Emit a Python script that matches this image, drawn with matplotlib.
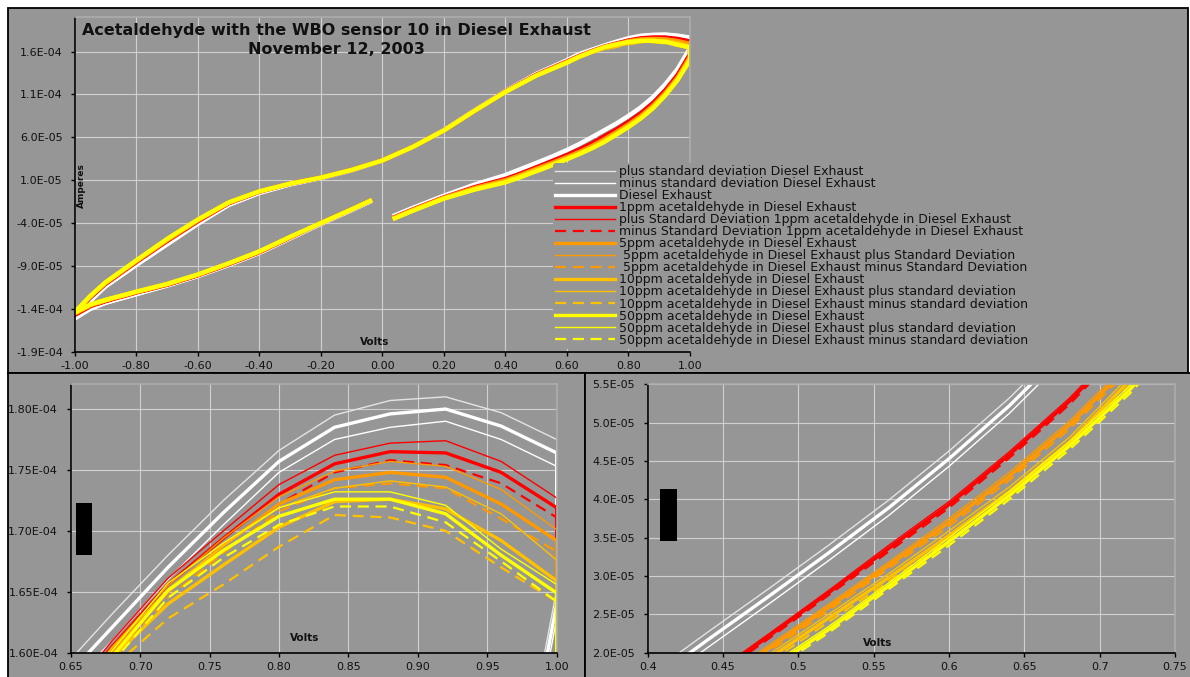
import numpy as np
import matplotlib.pyplot as plt
from matplotlib.patches import Rectangle

plt.rcParams['font.family'] = ['DejaVu Sans']

nan = np.nan
UNIT = 1e-4   # all currents below are in units of 1E-04 A

# voltage sweep: forward -1 -> 1, then back 1 -> -1 (blank cell at 0.00)
volts_fwd = [-1.00, -0.95, -0.90, -0.80, -0.70, -0.60, -0.50, -0.40, -0.30, -0.20,
             -0.10, 0.00, 0.10, 0.20, 0.30, 0.40, 0.50, 0.60, 0.64, 0.68,
             0.72, 0.76, 0.80, 0.84, 0.88, 0.92, 0.96, 1.00]
volts_rev = [1.00, 0.96, 0.92, 0.88, 0.84, 0.80, 0.76, 0.72, 0.68, 0.64,
             0.60, 0.56, 0.52, 0.48, 0.44, 0.40, 0.30, 0.20, 0.10, 0.04,
             0.00, -0.04, -0.10, -0.20, -0.30, -0.40, -0.50, -0.60, -0.70, -0.80,
             -0.90, -0.95, -1.00]

# Diesel Exhaust
de_fwd = [-1.51, -1.31, -1.14, -0.89, -0.65, -0.41, -0.19, -0.05, 0.05, 0.125,
          0.215, 0.33, 0.49, 0.685, 0.915, 1.14, 1.34, 1.50, 1.572, 1.621,
          1.670, 1.715, 1.757, 1.785, 1.796, 1.800, 1.786, 1.764]
de_rev = [1.64, 1.40, 1.22, 1.07, 0.95, 0.85, 0.76, 0.68, 0.60, 0.522,
          0.453, 0.389, 0.330, 0.273, 0.217, 0.160, 0.050, -0.080, -0.220, -0.310,
          nan, -0.150, -0.250, -0.410, -0.580, -0.750, -0.890, -1.020, -1.130, -1.230,
          -1.330, -1.400, -1.510]
de_sd_fwd = [0.020, 0.015, 0.012, 0.010, 0.010, 0.008, 0.006, 0.005, 0.005, 0.005,
             0.005, 0.005, 0.006, 0.007, 0.008, 0.009, 0.010, 0.010, 0.010, 0.011,
             0.010, 0.010, 0.009, 0.010, 0.011, 0.010, 0.011, 0.011]
de_sd_rev = [0.012, 0.012, 0.011, 0.011, 0.011, 0.011, 0.011, 0.010, 0.010, 0.010,
             0.010, 0.010, 0.010, 0.010, 0.010, 0.010, 0.008, 0.006, 0.005, 0.005,
             nan, 0.005, 0.005, 0.006, 0.006, 0.007, 0.008, 0.009, 0.010, 0.012,
             0.015, 0.018, 0.020]

# 1ppm acetaldehyde
p1_fwd = [-1.47, -1.27, -1.11, -0.855, -0.61, -0.38, -0.17, -0.035, 0.06, 0.13,
          0.22, 0.33, 0.49, 0.68, 0.91, 1.135, 1.33, 1.485, 1.550, 1.605,
          1.656, 1.694, 1.730, 1.755, 1.765, 1.764, 1.748, 1.719]
p1_rev = [1.57, 1.33, 1.15, 1.00, 0.88, 0.78, 0.69, 0.61, 0.528, 0.458,
          0.393, 0.336, 0.278, 0.221, 0.165, 0.115, 0.020, -0.100, -0.240, -0.330,
          nan, -0.140, -0.240, -0.400, -0.570, -0.740, -0.880, -1.010, -1.120, -1.210,
          -1.310, -1.370, -1.470]
p1_sd_fwd = [0.010, 0.008, 0.006, 0.005, 0.005, 0.004, 0.004, 0.003, 0.003, 0.003,
             0.003, 0.003, 0.003, 0.004, 0.004, 0.004, 0.004, 0.004, 0.004, 0.005,
             0.005, 0.006, 0.008, 0.007, 0.007, 0.010, 0.009, 0.008]
p1_sd_rev = [0.006, 0.005, 0.005, 0.004, 0.004, 0.004, 0.004, 0.004, 0.004, 0.004,
             0.004, 0.004, 0.003, 0.003, 0.003, 0.003, 0.003, 0.003, 0.003, 0.003,
             nan, 0.003, 0.003, 0.003, 0.004, 0.004, 0.005, 0.005, 0.006, 0.007,
             0.008, 0.009, 0.010]

# 5ppm acetaldehyde
p5_fwd = [-1.455, -1.26, -1.10, -0.845, -0.60, -0.37, -0.165, -0.03, 0.06, 0.13,
          0.22, 0.33, 0.49, 0.68, 0.91, 1.13, 1.325, 1.48, 1.545, 1.600,
          1.650, 1.688, 1.722, 1.742, 1.748, 1.744, 1.722, 1.692]
p5_rev = [1.54, 1.30, 1.12, 0.97, 0.85, 0.75, 0.66, 0.575, 0.497, 0.430,
          0.370, 0.314, 0.259, 0.205, 0.149, 0.100, 0.010, -0.105, -0.245, -0.335,
          nan, -0.140, -0.240, -0.400, -0.565, -0.735, -0.875, -1.005, -1.115, -1.205,
          -1.300, -1.360, -1.455]
p5_sd_fwd = [0.010, 0.008, 0.006, 0.005, 0.005, 0.004, 0.004, 0.003, 0.003, 0.003,
             0.003, 0.003, 0.003, 0.004, 0.004, 0.004, 0.004, 0.004, 0.004, 0.005,
             0.005, 0.006, 0.006, 0.007, 0.009, 0.009, 0.012, 0.009]
p5_sd_rev = [0.007, 0.006, 0.006, 0.005, 0.005, 0.005, 0.005, 0.005, 0.005, 0.005,
             0.005, 0.004, 0.004, 0.004, 0.004, 0.004, 0.003, 0.003, 0.003, 0.003,
             nan, 0.003, 0.003, 0.003, 0.004, 0.004, 0.005, 0.005, 0.006, 0.007,
             0.008, 0.009, 0.010]

# 10ppm acetaldehyde
p10_fwd = [-1.445, -1.255, -1.095, -0.84, -0.59, -0.36, -0.16, -0.03, 0.06, 0.13,
           0.22, 0.33, 0.49, 0.68, 0.91, 1.13, 1.32, 1.475, 1.540, 1.596,
           1.640, 1.672, 1.703, 1.724, 1.726, 1.718, 1.692, 1.659]
p10_rev = [1.52, 1.28, 1.10, 0.95, 0.83, 0.73, 0.64, 0.555, 0.475, 0.410,
           0.353, 0.298, 0.245, 0.192, 0.136, 0.085, 0.000, -0.110, -0.250, -0.340,
           nan, -0.140, -0.240, -0.400, -0.565, -0.730, -0.870, -1.000, -1.110, -1.200,
           -1.300, -1.355, -1.445]
p10_sd_fwd = [0.012, 0.010, 0.008, 0.006, 0.005, 0.005, 0.004, 0.004, 0.003, 0.003,
              0.003, 0.003, 0.004, 0.004, 0.005, 0.005, 0.005, 0.006, 0.006, 0.008,
              0.012, 0.016, 0.016, 0.011, 0.015, 0.018, 0.022, 0.017]
p10_sd_rev = [0.008, 0.007, 0.007, 0.006, 0.006, 0.006, 0.006, 0.006, 0.006, 0.006,
              0.006, 0.005, 0.005, 0.005, 0.005, 0.005, 0.004, 0.004, 0.003, 0.003,
              nan, 0.003, 0.003, 0.004, 0.004, 0.005, 0.005, 0.006, 0.007, 0.008,
              0.009, 0.010, 0.012]

# 50ppm acetaldehyde
p50_fwd = [-1.44, -1.25, -1.09, -0.835, -0.585, -0.36, -0.16, -0.03, 0.06, 0.13,
           0.22, 0.33, 0.49, 0.68, 0.91, 1.13, 1.32, 1.47, 1.540, 1.597,
           1.651, 1.684, 1.712, 1.726, 1.726, 1.714, 1.680, 1.649]
p50_rev = [1.50, 1.27, 1.09, 0.94, 0.82, 0.72, 0.63, 0.543, 0.470, 0.405,
           0.345, 0.287, 0.230, 0.178, 0.123, 0.075, -0.010, -0.115, -0.255, -0.345,
           nan, -0.140, -0.240, -0.400, -0.560, -0.730, -0.870, -1.000, -1.110, -1.200,
           -1.295, -1.350, -1.440]
p50_sd_fwd = [0.010, 0.008, 0.006, 0.005, 0.005, 0.004, 0.004, 0.003, 0.003, 0.003,
              0.003, 0.003, 0.003, 0.004, 0.004, 0.004, 0.004, 0.004, 0.004, 0.005,
              0.006, 0.006, 0.007, 0.006, 0.006, 0.007, 0.005, 0.007]
p50_sd_rev = [0.007, 0.006, 0.006, 0.005, 0.005, 0.005, 0.005, 0.005, 0.005, 0.005,
              0.005, 0.004, 0.004, 0.004, 0.004, 0.004, 0.003, 0.003, 0.003, 0.003,
              nan, 0.003, 0.003, 0.003, 0.004, 0.004, 0.005, 0.005, 0.006, 0.007,
              0.008, 0.009, 0.010]

volts = np.array(volts_fwd + volts_rev)


def cycle(fwd, rev):
    return np.array(fwd + rev) * UNIT


MEAN_LW, THIN_LW, DASH_LW = 2.4, 1.0, 1.6

# (label, current, colour, width, dashed) in the order Excel drew them
series = []
de, de_sd = cycle(de_fwd, de_rev), cycle(de_sd_fwd, de_sd_rev)
series.append(("plus standard deviation Diesel Exhaust", de + de_sd, '#e4e4e4', THIN_LW, False))
series.append(("minus standard deviation Diesel Exhaust", de - de_sd, 'white', THIN_LW, False))
series.append(("Diesel Exhaust", de, 'white', MEAN_LW, False))

ppm_groups = [
    ('#ff0000', p1_fwd, p1_rev, p1_sd_fwd, p1_sd_rev,
     "1ppm acetaldehyde in Diesel Exhaust",
     "plus Standard Deviation 1ppm acetaldehyde in Diesel Exhaust",
     "minus Standard Deviation 1ppm acetaldehyde in Diesel Exhaust"),
    ('#ff9900', p5_fwd, p5_rev, p5_sd_fwd, p5_sd_rev,
     "5ppm acetaldehyde in Diesel Exhaust",
     " 5ppm acetaldehyde in Diesel Exhaust plus Standard Deviation",
     " 5ppm acetaldehyde in Diesel Exhaust minus Standard Deviation"),
    ('#ffc000', p10_fwd, p10_rev, p10_sd_fwd, p10_sd_rev,
     "10ppm acetaldehyde in Diesel Exhaust",
     "10ppm acetaldehyde in Diesel Exhaust plus standard deviation",
     "10ppm acetaldehyde in Diesel Exhaust minus standard deviation"),
    ('#ffff00', p50_fwd, p50_rev, p50_sd_fwd, p50_sd_rev,
     "50ppm acetaldehyde in Diesel Exhaust",
     "50ppm acetaldehyde in Diesel Exhaust plus standard deviation",
     "50ppm acetaldehyde in Diesel Exhaust minus standard deviation"),
]
for col, fwd, rev, sdf, sdr, lab, lab_plus, lab_minus in ppm_groups:
    m, s = cycle(fwd, rev), cycle(sdf, sdr)
    series.append((lab, m, col, MEAN_LW, False))
    series.append((lab_plus, m + s, col, THIN_LW, False))
    series.append((lab_minus, m - s, col, DASH_LW, True))

W, H = 1190, 677
GRAY = '#969696'


def box(x0, y0, x1, y1):
    return [x0 / W, 1 - y1 / H, (x1 - x0) / W, (y1 - y0) / H]


fig = plt.figure(figsize=(W / 100, H / 100), dpi=100, facecolor='white')

# the three chart panels
for x0, y0, x1, y1 in [(8, 8, 1188, 373), (8, 373, 585, 690), (585, 373, 1200, 690)]:
    fig.add_artist(Rectangle((x0 / W, 1 - y1 / H), (x1 - x0) / W, (y1 - y0) / H,
                             transform=fig.transFigure, facecolor=GRAY,
                             edgecolor='black', lw=1.3, zorder=-10))


def draw(ax, scale=1.0):
    ax.set_facecolor(GRAY)
    for label, y, col, lw, dashed in series:
        ls = (0, (5, 3)) if dashed else '-'
        ax.plot(volts, y, color=col, lw=lw * scale, ls=ls, label=label)


def style(ax, xlim, ylim, xticks, yticks, xfmt, yfmt, ypad):
    ax.set_xlim(*xlim)
    ax.set_ylim(*ylim)
    ax.set_xticks(xticks)
    ax.set_xticklabels([xfmt(v) for v in xticks])
    ax.set_yticks(yticks)
    ax.set_yticklabels([yfmt(v) for v in yticks])
    ax.grid(True, color='#d0d0d0', lw=0.8)
    ax.set_axisbelow(True)
    for s in ['left', 'bottom']:
        ax.spines[s].set_color('black')
        ax.spines[s].set_linewidth(1.2)
    for s in ['top', 'right']:
        ax.spines[s].set_color('#acacac')
        ax.spines[s].set_linewidth(1.2)
    ax.tick_params(direction='out', length=3, width=1, colors='black',
                   labelsize=8, labelcolor='#111111')
    ax.tick_params(axis='y', pad=ypad)
    ax.tick_params(axis='x', pad=4)


def fmt2(v):
    return f"{round(v, 2) + 0:.2f}"


# main chart
ax = fig.add_axes(box(74.7, 17.3, 690, 351.7))
draw(ax, 1.3)
style(ax, (-1, 1), (-1.9e-4, 2.0e-4),
      np.round(np.arange(-1, 1.01, 0.2), 2),
      np.round(np.arange(-1.9e-4, 1.7e-4, 5e-5), 10),
      fmt2, lambda v: f"{v:.1E}", 5.5)

# zoom on the forward peak
ax2 = fig.add_axes(box(70.7, 384.3, 556.7, 652.7))
draw(ax2)
style(ax2, (0.65, 1.0), (1.60e-4, 1.8203e-4),
      np.round(np.arange(0.65, 1.001, 0.05), 2),
      np.round(np.arange(1.60e-4, 1.81e-4, 5e-6), 10),
      fmt2, lambda v: f"{v:.2E}", 6)

# zoom on the reverse branch
ax3 = fig.add_axes(box(647.7, 384.3, 1175, 652.7))
draw(ax3)
style(ax3, (0.4, 0.75), (2.0e-5, 5.5e-5),
      np.round(np.arange(0.4, 0.751, 0.05), 2),
      np.round(np.arange(2.0e-5, 5.51e-5, 5e-6), 10),
      lambda v: f"{round(v, 2):g}", lambda v: f"{v:.1E}", 6)

fig.text(336.5 / W, 1 - 30 / H, "Acetaldehyde with the WBO sensor 10 in Diesel Exhaust",
         ha='center', va='center', fontsize=11.5, fontweight='bold', color='#111111')
fig.text(336.5 / W, 1 - 50 / H, "November 12, 2003",
         ha='center', va='center', fontsize=11.5, fontweight='bold', color='#111111')
fig.text(81 / W, 1 - 186 / H, "Amperes", rotation=90, ha='center', va='center',
         fontsize=6.5, fontweight='bold', color='#111111')
for x, y in [(375, 342), (305, 638), (878, 643)]:
    fig.text(x / W, 1 - y / H, "Volts", ha='center', va='center',
             fontsize=7.5, fontweight='bold', color='#111111')

# black blocks left in the zoomed charts
for x0, y0, x1, y1 in [(76, 503, 92, 555), (660, 489, 677, 541)]:
    fig.add_artist(Rectangle((x0 / W, 1 - y1 / H), (x1 - x0) / W, (y1 - y0) / H,
                             transform=fig.transFigure, facecolor='black',
                             edgecolor='none', zorder=10))

# legend uses the plain widths of the zoomed charts
handles, labels = ax2.get_legend_handles_labels()
leg = fig.legend(handles, labels, loc='upper left', bbox_to_anchor=(553 / W, 1 - 163 / H),
                 fontsize=9, frameon=True, facecolor=GRAY, edgecolor='none',
                 framealpha=1, handlelength=4.8, handletextpad=0.3,
                 labelspacing=-0.075, borderpad=0.15, borderaxespad=0)
for t in leg.get_texts():
    t.set_color('#111111')

fig.savefig("out.png", dpi=100, facecolor='white')
